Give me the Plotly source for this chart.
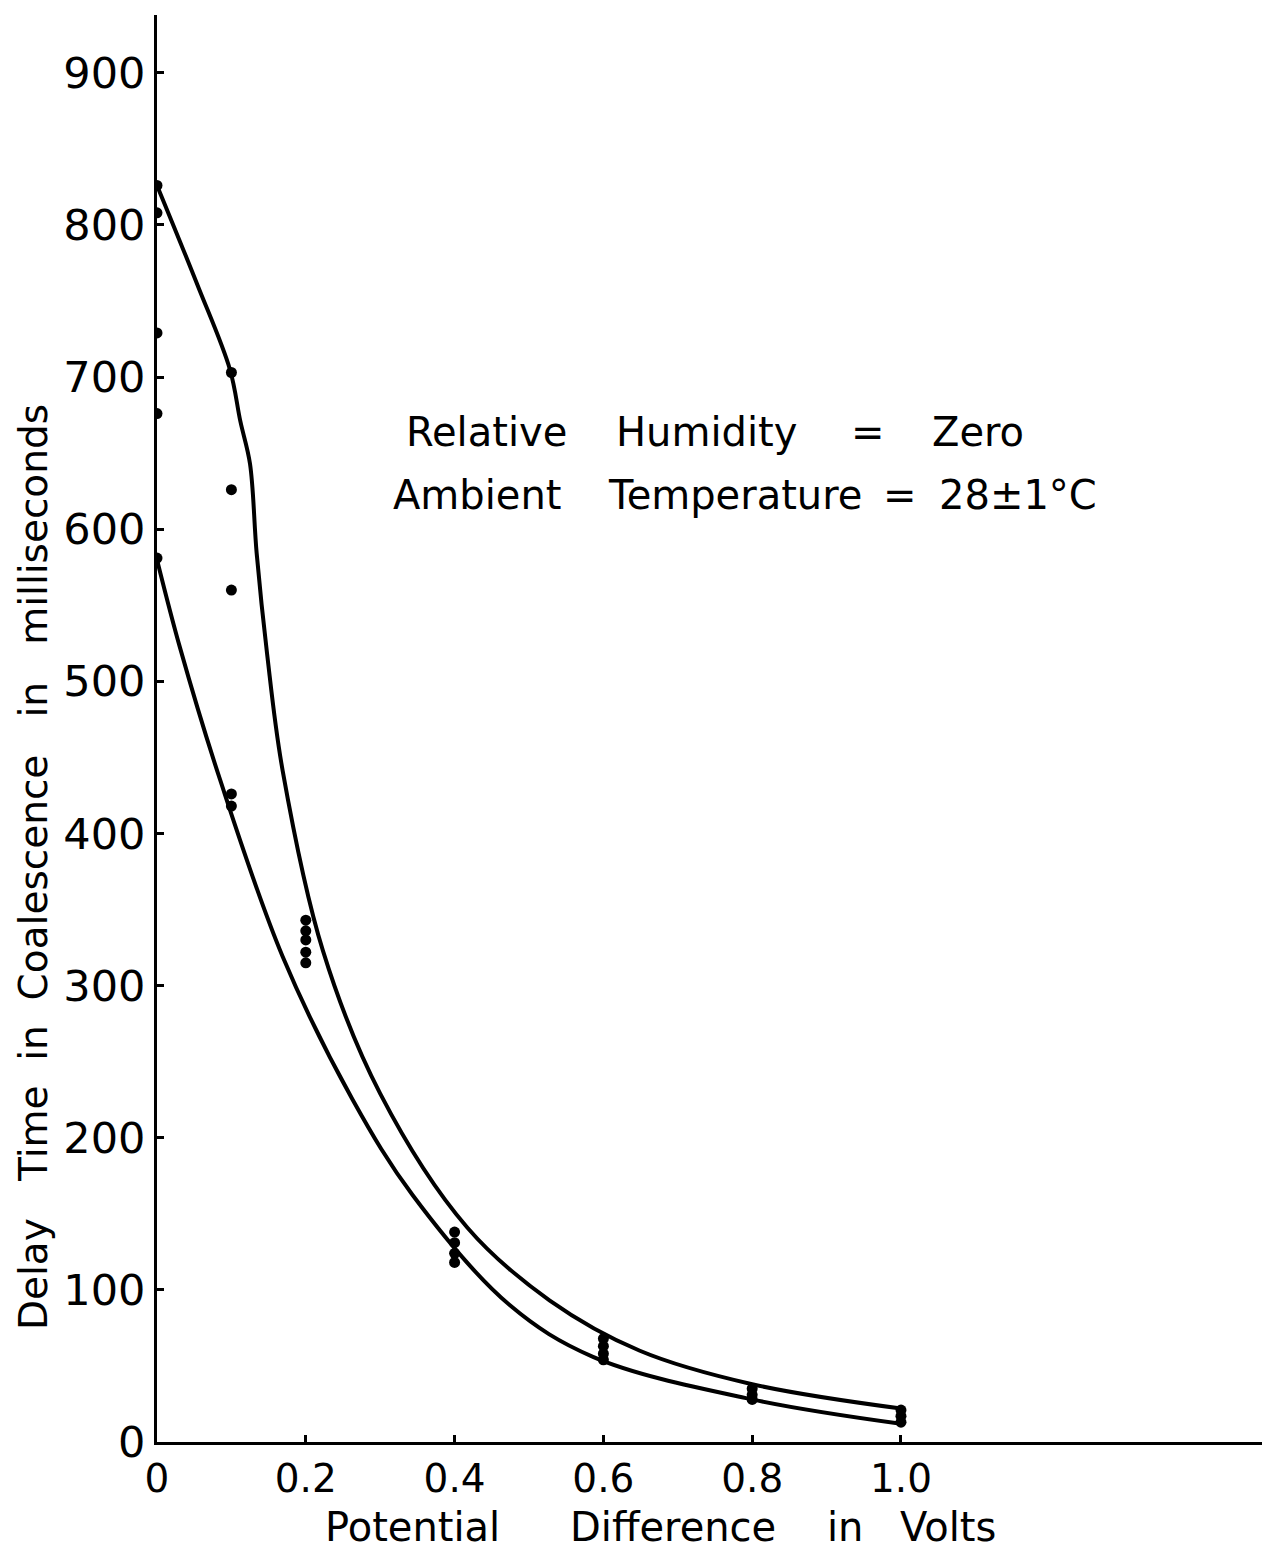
import plotly.graph_objects as go

# ---- data ----
upper_curve_x = [0.0, 0.054, 0.098, 0.112, 0.125, 0.134, 0.148, 0.169, 0.223, 0.3, 0.417, 0.528, 0.649, 0.8, 1.0]
upper_curve_y = [826, 761, 705, 671, 643, 584, 518, 441, 323, 229, 141, 93, 60, 38, 22]

lower_curve_x = [0.0, 0.031, 0.085, 0.169, 0.263, 0.344, 0.474, 0.586, 0.8, 1.0]
lower_curve_y = [580, 522, 435, 319, 225, 162, 90, 56, 28, 12]

points_x = [0, 0, 0, 0, 0,
            0.1, 0.1, 0.1, 0.1, 0.1,
            0.2, 0.2, 0.2, 0.2, 0.2,
            0.4, 0.4, 0.4, 0.4,
            0.6, 0.6, 0.6, 0.6,
            0.8, 0.8, 0.8,
            1.0, 1.0, 1.0]
points_y = [826, 808, 729, 676, 581,
            703, 626, 560, 426, 418,
            343, 336, 330, 322, 315,
            138, 131, 124, 118,
            68, 63, 58, 54,
            35, 31, 28,
            21, 17, 13]

x_tick_vals = [0, 0.2, 0.4, 0.6, 0.8, 1.0]
x_tick_text = ["0", "0.2", "0.4", "0.6", "0.8", "1.0"]
y_tick_vals = [0, 100, 200, 300, 400, 500, 600, 700, 800, 900]
y_tick_text = ["0", "100", "200", "300", "400", "500", "600", "700", "800", "900"]

# ---- layout geometry (page pixels; the page body adds an 8px offset) ----
OFF = 8
PAGE_W, PAGE_H = 1270, 1549
AX_L, AX_R, AX_T, AX_B = 157, 1270, 15, 1442   # plot area on the page
X_MAX = 1.496
Y_MAX = 938

W = PAGE_W - OFF
H = PAGE_H - OFF
L = AX_L - OFF
T = AX_T - OFF
R = PAGE_W - AX_R
B = PAGE_H - AX_B
plot_w = AX_R - AX_L
plot_h = AX_B - AX_T

def pxp(px):
    return (px - AX_L) / plot_w

def pyp(py):
    return (AX_B - py) / plot_h

FONT = "DejaVu Sans"
NB = "\u00a0"

fig = go.Figure()
fig.add_trace(go.Scatter(x=upper_curve_x, y=upper_curve_y, mode="lines",
                         line=dict(color="black", width=4, shape="spline", smoothing=1.0),
                         hoverinfo="skip", showlegend=False))
fig.add_trace(go.Scatter(x=lower_curve_x, y=lower_curve_y, mode="lines",
                         line=dict(color="black", width=4, shape="spline", smoothing=1.0),
                         hoverinfo="skip", showlegend=False))
fig.add_trace(go.Scatter(x=points_x, y=points_y, mode="markers",
                         marker=dict(color="black", size=11),
                         showlegend=False))

annotations = []
def word(text, cx, cy, size=40):
    annotations.append(dict(x=pxp(cx), y=pyp(cy), xref="paper", yref="paper", text=text,
                            showarrow=False, xanchor="center", yanchor="middle",
                            font=dict(family=FONT, size=size, color="black")))

word("Relative", 486, 432)
word("Humidity", 706, 432)
word("=", 868, 432)
word("Zero", 978, 432)
word("Ambient", 477, 495)
word("Temperature", 735, 495)
word("=", 900, 495)
word("28±1°C", 1018, 495)

# axis titles
word("Potential", 412, 1527)
word("Difference", 673, 1527)
word("in", 845, 1527)
word("Volts", 948, 1527)

annotations.append(dict(x=pxp(33), y=pyp(867), xref="paper", yref="paper",
                        text=f"Delay{NB}{NB}{NB}Time{NB}{NB}in{NB}{NB}Coalescence{NB}{NB}{NB}in{NB}{NB}{NB}milliseconds",
                        textangle=-90, showarrow=False, xanchor="center", yanchor="middle",
                        font=dict(family=FONT, size=39, color="black")))

fig.update_layout(
    width=W, height=H,
    margin=dict(l=L, r=R, t=T, b=B, autoexpand=False),
    paper_bgcolor="white", plot_bgcolor="white",
    annotations=annotations,
    xaxis=dict(range=[0, X_MAX], tickvals=x_tick_vals, ticktext=x_tick_text,
               showgrid=False, zeroline=False, showline=True, linecolor="black", linewidth=3,
               ticks="inside", ticklen=7, tickwidth=3, tickcolor="black",
               tickfont=dict(family=FONT, size=39, color="black")),
    yaxis=dict(range=[0, Y_MAX], tickvals=y_tick_vals, ticktext=y_tick_text,
               showgrid=False, zeroline=False, showline=True, linecolor="black", linewidth=3,
               ticks="inside", ticklen=7, tickwidth=3, tickcolor="black",
               tickfont=dict(family=FONT, size=43, color="black")),
)

fig.write_html("out.html")
